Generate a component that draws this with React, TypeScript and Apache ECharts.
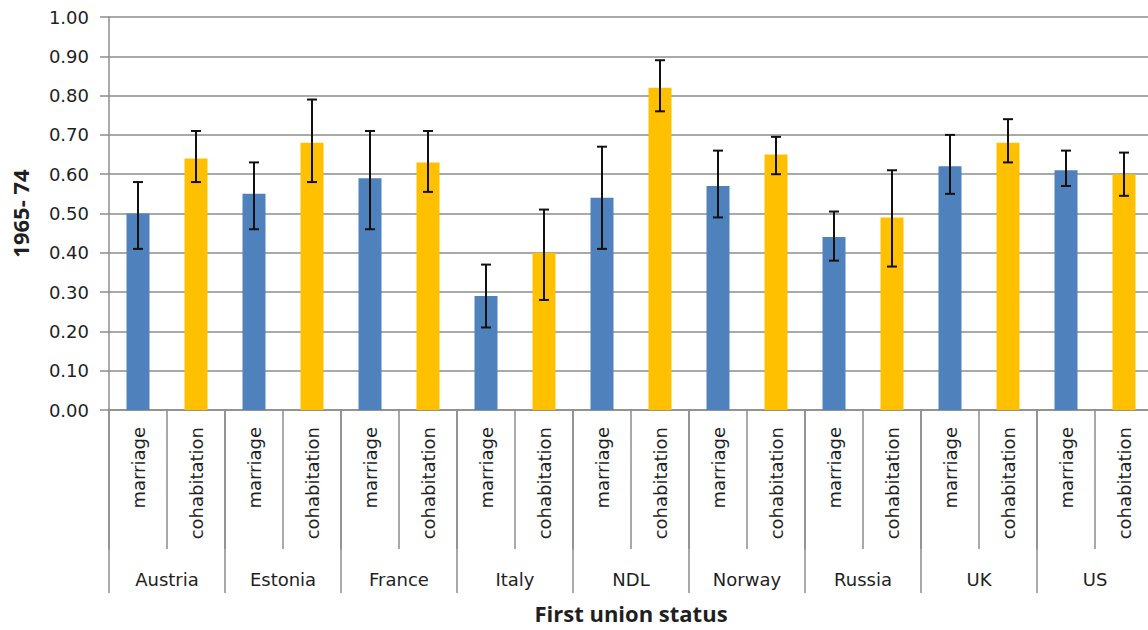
import React, { useEffect, useRef } from "react";
import * as echarts from "echarts";

const countries = ["Austria", "Estonia", "France", "Italy", "NDL", "Norway", "Russia", "UK", "US"];
const statuses = ["marriage", "cohabitation"];
const marriage = [0.50, 0.55, 0.59, 0.29, 0.54, 0.57, 0.44, 0.62, 0.61];
const marriageLow = [0.41, 0.46, 0.46, 0.21, 0.41, 0.49, 0.38, 0.55, 0.57];
const marriageHigh = [0.58, 0.63, 0.71, 0.37, 0.67, 0.66, 0.505, 0.70, 0.66];
const cohab = [0.64, 0.68, 0.63, 0.40, 0.82, 0.65, 0.49, 0.68, 0.60];
const cohabLow = [0.58, 0.58, 0.555, 0.28, 0.76, 0.60, 0.365, 0.63, 0.545];
const cohabHigh = [0.71, 0.79, 0.71, 0.51, 0.89, 0.695, 0.61, 0.74, 0.655];
const yTicks = { min: 0, max: 1, interval: 0.1 };

const BLUE = "#4F81BD";
const YELLOW = "#FFC000";
const GRAY = "#8c8c8c";
const TEXT = "#1f1f1f";
const FONT = "DejaVu Sans";

export default function App() {
  const ref = useRef<HTMLDivElement>(null);
  useEffect(() => {
    if (!ref.current) return;
    const chart = echarts.init(ref.current, undefined, { renderer: "svg" });
    const cats: string[] = [];
    const barData: any[] = [];
    const errData: number[][] = [];
    countries.forEach((c, i) => {
      cats.push(statuses[0], statuses[1]);
      barData.push({ value: marriage[i], itemStyle: { color: BLUE } });
      barData.push({ value: cohab[i], itemStyle: { color: YELLOW } });
      errData.push([i * 2, marriageLow[i], marriageHigh[i]]);
      errData.push([i * 2 + 1, cohabLow[i], cohabHigh[i]]);
    });
    chart.setOption({
      animation: false,
      grid: { left: 109, right: 7, top: 17, bottom: 220, containLabel: false },
      xAxis: [
        {
          type: "category",
          data: cats,
          position: "bottom",
          offset: 0,
          axisLine: { show: true, lineStyle: { color: GRAY, width: 1.5 } },
          axisTick: { show: true, interval: 0, length: 139, lineStyle: { color: GRAY, width: 1.5 } },
          axisLabel: {
            interval: 0,
            rotate: 90,
            margin: 17,
            fontFamily: FONT,
            fontSize: 18,
            color: TEXT,
          },
          splitLine: { show: false },
        },
        {
          type: "category",
          data: countries,
          position: "bottom",
          offset: 0,
          axisLine: { show: false },
          axisTick: { show: true, interval: 0, length: 183, lineStyle: { color: GRAY, width: 1.5 } },
          axisLabel: {
            interval: 0,
            margin: 160,
            fontFamily: FONT,
            fontSize: 18,
            color: TEXT,
          },
          name: "First union status",
          nameLocation: "middle",
          nameGap: 192,
          nameTextStyle: { fontFamily: "Open Sans", fontWeight: "bold", fontSize: 22, color: TEXT },
          splitLine: { show: false },
        },
      ],
      yAxis: {
        type: "value",
        min: yTicks.min,
        max: yTicks.max,
        interval: yTicks.interval,
        name: "1965- 74",
        nameLocation: "middle",
        nameRotate: 90,
        nameGap: 78,
        nameTextStyle: { fontFamily: "Open Sans", fontWeight: "bold", fontSize: 22, color: TEXT },
        axisLine: { show: true, lineStyle: { color: GRAY, width: 1.5 } },
        axisTick: { show: true, length: 9, lineStyle: { color: GRAY, width: 1.5 } },
        axisLabel: {
          margin: 20,
          fontFamily: FONT,
          fontSize: 18,
          color: TEXT,
          formatter: (v: number) => v.toFixed(2),
        },
        splitLine: { show: true, lineStyle: { color: GRAY, width: 1.5 } },
      },
      series: [
        {
          type: "bar",
          xAxisIndex: 0,
          data: barData,
          barWidth: 23,
        },
        {
          type: "custom",
          xAxisIndex: 0,
          data: errData,
          encode: { x: 0, y: [1, 2] },
          z: 10,
          renderItem: (params: any, api: any) => {
            const x = api.value(0);
            const lo = api.coord([x, api.value(1)]);
            const hi = api.coord([x, api.value(2)]);
            const hw = 5;
            const style = { stroke: "#111", lineWidth: 2 };
            return {
              type: "group",
              children: [
                { type: "line", shape: { x1: lo[0], y1: lo[1], x2: hi[0], y2: hi[1] }, style },
                { type: "line", shape: { x1: hi[0] - hw, y1: hi[1], x2: hi[0] + hw, y2: hi[1] }, style },
                { type: "line", shape: { x1: lo[0] - hw, y1: lo[1], x2: lo[0] + hw, y2: lo[1] }, style },
              ],
            };
          },
        },
      ],
    });
    return () => chart.dispose();
  }, []);
  return (
    <div style={{ position: "fixed", left: 0, top: 0, width: 1148, height: 630, overflow: "hidden", background: "#fff" }}>
      <div ref={ref} style={{ width: 1160, height: 630 }} />
    </div>
  );
}
